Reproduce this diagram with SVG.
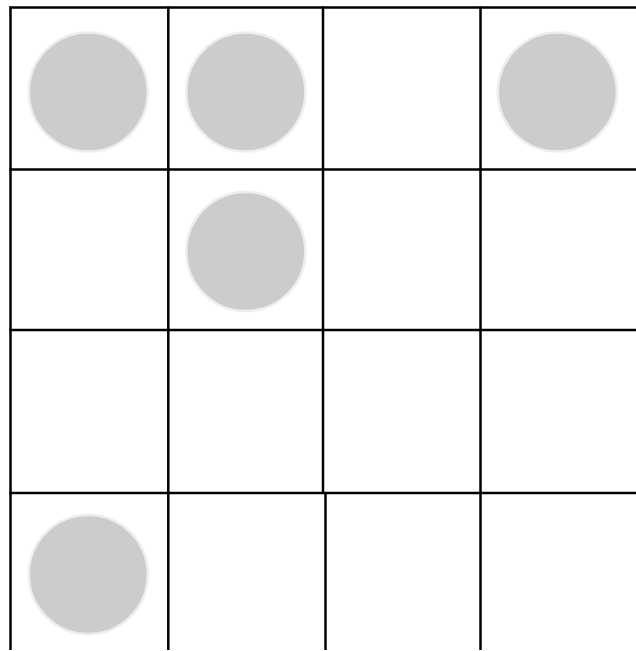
<svg xmlns="http://www.w3.org/2000/svg" width="636" height="651" viewBox="0 0 636 651">
<style>
.g{stroke:#000;stroke-width:2.5;fill:none}
.c{fill:#cccccc;stroke:#eeeeee;stroke-width:2.5}
</style>
<rect width="636" height="651" fill="#fff"/>
<g id="grid">
<line class="g" x1="9.5" y1="7.5" x2="636" y2="7.5"/>
<line class="g" x1="9.5" y1="169.5" x2="636" y2="169.5"/>
<line class="g" x1="9.5" y1="330" x2="636" y2="330"/>
<line class="g" x1="9.5" y1="493" x2="636" y2="493"/>
<line class="g" x1="10.5" y1="6.5" x2="10.5" y2="650"/>
<line class="g" x1="168.3" y1="6.5" x2="168.3" y2="650"/>
<line class="g" x1="323" y1="6.5" x2="323" y2="493"/>
<line class="g" x1="325.5" y1="493" x2="325.5" y2="650"/>
<line class="g" x1="480.5" y1="6.5" x2="480.5" y2="650"/>
</g>
<g id="c1"><circle class="c" cx="88.3" cy="92" r="59.5"/></g>
<g id="c2"><circle class="c" cx="245.8" cy="92" r="59.5"/></g>
<g id="c3"><circle class="c" cx="557.3" cy="92" r="59.5"/></g>
<g id="c4"><circle class="c" cx="245.8" cy="251.5" r="59.5"/></g>
<g id="c5"><circle class="c" cx="88.3" cy="574.5" r="59.5"/></g>
</svg>
